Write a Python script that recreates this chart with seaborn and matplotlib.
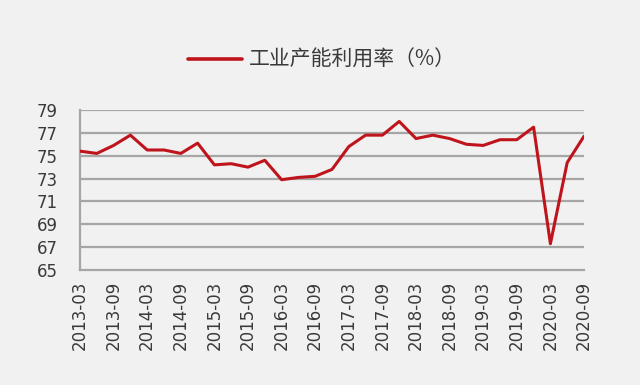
import numpy as np
import pandas as pd
import matplotlib
matplotlib.use("Agg")
import matplotlib.pyplot as plt
import seaborn as sns

# quarterly data, 2013Q1 - 2020Q3
quarters = [f"{y}-{m}" for y in range(2013, 2021) for m in ["03", "06", "09", "12"]][:31]
utilization = [75.4, 75.2, 75.9, 76.8, 75.5, 75.5, 75.2, 76.1,
               74.2, 74.3, 74.0, 74.6, 72.9, 73.1, 73.2, 73.8,
               75.8, 76.8, 76.8, 78.0, 76.5, 76.8, 76.5, 76.0,
               75.9, 76.4, 76.4, 77.5, 67.3, 74.4, 76.7]
y_ticks = [65, 67, 69, 71, 73, 75, 77, 79]
series_name = "工业产能利用率（%）"

df = pd.DataFrame({"pos": np.arange(len(quarters)), "quarter": quarters, series_name: utilization})

sns.set_style("white")
plt.rcParams["font.family"] = ["DejaVu Sans", "Noto Sans CJK SC"]

bg = "#f1f1f1"
fig = plt.figure(figsize=(6.4, 3.85), dpi=100, facecolor=bg)
ax = fig.add_axes([0.125, 0.2987, 0.7875, 0.4156])
ax.set_facecolor("none")

sns.lineplot(data=df, x="pos", y=series_name, ax=ax, color="#c0141c",
             linewidth=2.2, label=series_name, zorder=3)

ax.set_xlim(0, len(quarters) - 1)
ax.set_ylim(65, 79)
ax.set_yticks(y_ticks)
ax.set_yticklabels([str(v) for v in y_ticks])
ax.set_xticks(df["pos"][::2])
ax.set_xticklabels(df["quarter"][::2], rotation=90)
ax.set_xlabel("")
ax.set_ylabel("")

grid_c = "#a6a6a6"
for v in y_ticks[1:]:
    ax.axhline(v, color=grid_c, linewidth=1.6, zorder=1)
for side in ["top", "right"]:
    ax.spines[side].set_visible(False)
for side in ["left", "bottom"]:
    ax.spines[side].set_color(grid_c)
    ax.spines[side].set_linewidth(1.6)

ax.tick_params(axis="both", which="major", length=5, width=1.4, color=grid_c,
               labelsize=12, labelcolor="#3a3a3a")
ax.tick_params(axis="x", pad=3)
ax.tick_params(axis="y", pad=11)

ax.get_legend().remove()
handles, labels = ax.get_legend_handles_labels()
leg = fig.legend(handles, labels, loc="center", bbox_to_anchor=(0.503, 0.844),
                 frameon=False, fontsize=15, handlelength=2.6, handletextpad=0.3)
for t in leg.get_texts():
    t.set_color("#3a3a3a")
    t.set_family(["Noto Sans CJK SC", "DejaVu Sans"])
for l in leg.get_lines():
    l.set_linewidth(2.6)

fig.savefig("out.png", dpi=100, facecolor=bg)
